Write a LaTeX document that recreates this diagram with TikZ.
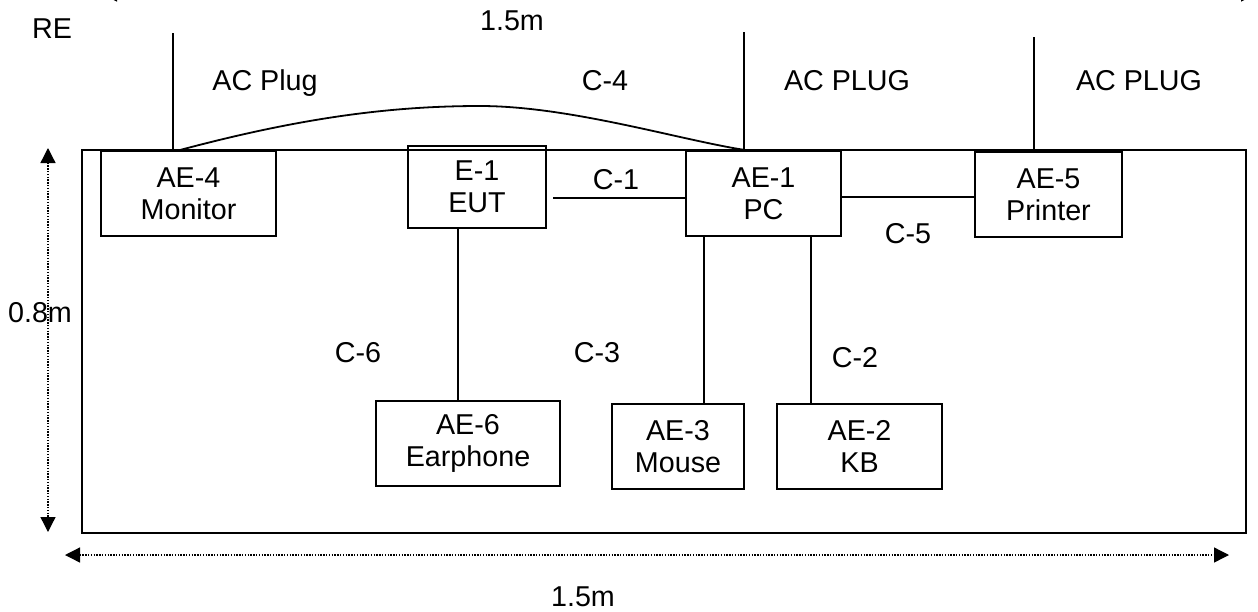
\documentclass[tikz,border=0pt]{standalone}
\usepackage{fontspec}
\setmainfont{Liberation Sans}
\usetikzlibrary{arrows.meta}
\begin{document}
\begin{tikzpicture}[x=1pt,y=-1pt,
  every node/.style={font=\fontsize{28.7}{32}\selectfont},
  box/.style={draw,line width=2pt,inner sep=0pt,align=center,minimum width=#1,minimum height=85pt},
  lbl/.style={inner sep=0pt,text height=20.6pt,text depth=0pt},
  wire/.style={line width=1.8pt},
  dim/.style={line width=1.3pt,dash pattern=on 1.4pt off 1.4pt,{Triangle[length=15pt,width=15pt]}-{Triangle[length=15pt,width=15pt]}}]
\useasboundingbox (0,0) rectangle (1258,611);
% table
\draw[line width=2pt] (82,150) rectangle (1246,533);
% equipment
\node[box=175pt] (mon) at (188.5,193.5) {AE-4\\Monitor};
\node[box=138pt,minimum height=82pt] (eut) at (477,187) {E-1\\EUT};
\node[box=155pt] (pc) at (763.5,193.5) {AE-1\\PC};
\node[box=147pt] (prn) at (1048.5,194.5) {AE-5\\Printer};
\node[box=184pt] (ear) at (468,443.5) {AE-6\\Earphone};
\node[box=132pt] (mouse) at (678,446.5) {AE-3\\Mouse};
\node[box=165pt] (kb) at (859.5,446.5) {AE-2\\KB};
% AC plug ends
\coordinate (pm) at (173,33);
\coordinate (pp) at (744,32);
\coordinate (pr) at (1034,37);
\draw[wire] (pm) -- (pm |- mon.north);
\draw[wire] (pp) -- (pp |- pc.north);
\draw[wire] (pr) -- (pr |- prn.north);
% cables
\draw[wire] ([xshift=-8.5pt]mon.north) .. controls (300,118) and (390,106) .. (480,106)
  .. controls (570,106) and (680,140) .. ([xshift=-18.5pt]pc.north);
\draw[wire] ([yshift=-4.5pt]pc.west) -- ([yshift=-4.5pt,xshift=6pt]pc.west -| eut.east);
\draw[wire] ([yshift=-3.5pt]pc.east) -- ([yshift=-3.5pt]pc.east -| prn.west);
\draw[wire] ([xshift=-10pt]ear.north) -- ([xshift=-10pt]ear.north |- eut.south);
\draw[wire] ([xshift=26pt]mouse.north) -- ([xshift=26pt]mouse.north |- pc.south);
\draw[wire] ([xshift=-48.5pt]kb.north) -- ([xshift=-48.5pt]kb.north |- pc.south);
% dimensions
\coordinate (t1) at (102,-6); \coordinate (t2) at (1256,-6);
\coordinate (v1) at (48,148); \coordinate (v2) at (48,532);
\coordinate (h1) at (65,555); \coordinate (h2) at (1229,555);
\draw[dim] (t1) -- (t2);
\draw[dim] (v1) -- (v2);
\draw[dim] (h1) -- (h2);
% labels
\node[lbl] (re) at (52,28) {RE};
\node[lbl] (topdim) at (512,20) {1.5m};
\node[lbl] (acm) at (265,80) {AC Plug};
\node[lbl] (c4) at (605,80) {C-4};
\node[lbl] (acp) at (847,80) {AC PLUG};
\node[lbl] (acr) at (1139,80) {AC PLUG};
\node[lbl] (c1) at (616,179) {C-1};
\node[lbl] (c5) at (908,233) {C-5};
\node[lbl] (c6) at (358,352) {C-6};
\node[lbl] (c3) at (597,352) {C-3};
\node[lbl] (c2) at (855,357) {C-2};
\node[lbl] (vdim) at (40,312) {0.8m};
\node[lbl] (bdim) at (583,596) {1.5m};
\end{tikzpicture}
\end{document}
